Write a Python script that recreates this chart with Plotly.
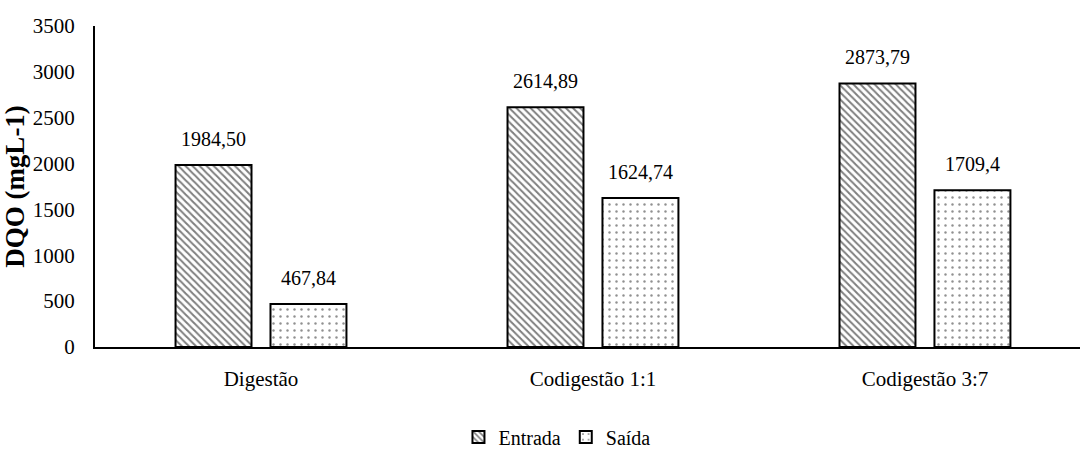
import plotly.graph_objects as go

# Categories and DQO values (mg/L)
categorias = ["Digestão", "Codigestão 1:1", "Codigestão 3:7"]
entrada = [1984.50, 2614.89, 2873.79]
saida = [467.84, 1624.74, 1709.4]
rotulos_entrada = ["1984,50", "2614,89", "2873,79"]
rotulos_saida = ["467,84", "1624,74", "1709,4"]
y_ticks = [0, 500, 1000, 1500, 2000, 2500, 3000, 3500]

FONT = '"Liberation Serif", "Times New Roman", serif'

fig = go.Figure()
fig.add_trace(go.Bar(
    name="Entrada", x=categorias, y=entrada,
    marker=dict(color="white", line=dict(color="black", width=2),
                pattern=dict(shape="\\", fgcolor="black", bgcolor="white",
                             size=5, solidity=0.4)),
))
fig.add_trace(go.Bar(
    name="Saída", x=categorias, y=saida,
    marker=dict(color="white", line=dict(color="black", width=2),
                pattern=dict(shape=".", fgcolor="#222", bgcolor="white",
                             size=7, solidity=0.1)),
))

# value labels above each bar
for serie, rotulos, shift in ((entrada, rotulos_entrada, -47.5), (saida, rotulos_saida, 47.5)):
    for cat, val, txt in zip(categorias, serie, rotulos):
        fig.add_annotation(x=cat, y=val, text=txt, showarrow=False,
                           xshift=shift, yshift=13, yanchor="bottom",
                           font=dict(family=FONT, size=20, color="black"))

fig.update_layout(
    width=1080, height=452,
    margin=dict(l=95, r=0, t=26, b=105, autoexpand=False),
    paper_bgcolor="white", plot_bgcolor="white",
    barmode="group", bargap=0.428, bargroupgap=0.2,
    font=dict(family=FONT, size=20, color="black"),
    showlegend=True,
    legend=dict(orientation="h", x=0.469, xanchor="center", y=-0.28, yanchor="middle",
                font=dict(family=FONT, size=20, color="black"),
                itemwidth=30, tracegroupgap=0),
    xaxis=dict(range=[-0.5, 2.467], showline=True, linecolor="black", linewidth=2,
               showgrid=False, ticks="outside", ticklen=12, tickcolor="rgba(0,0,0,0)",
               tickfont=dict(family=FONT, size=21, color="black")),
    yaxis=dict(range=[0, 3500], tickvals=y_ticks, showline=True, linecolor="black",
               linewidth=2, showgrid=False, zeroline=False,
               ticks="outside", ticklen=14, tickcolor="rgba(0,0,0,0)",
               tickfont=dict(family=FONT, size=21, color="black"),
               title=dict(text="<b>DQO (mgL-1)</b>", standoff=2,
                          font=dict(family=FONT, size=27, color="black"))),
)

fig.write_html("out.html")
